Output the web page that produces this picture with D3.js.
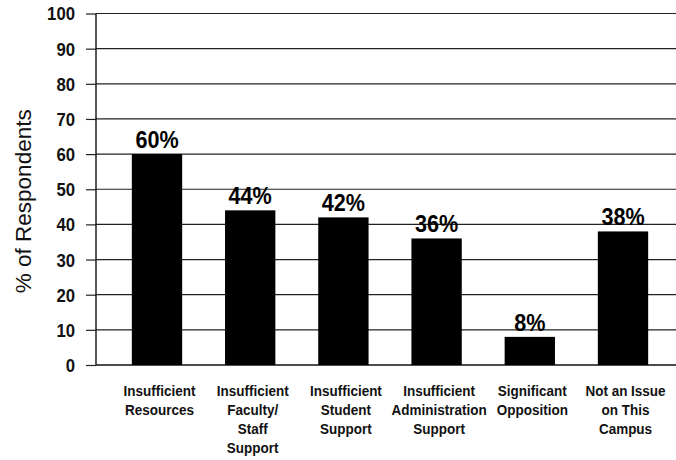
<!DOCTYPE html>
<html>
<head>
<meta charset="utf-8">
<script src="https://cdn.jsdelivr.net/npm/d3@7"></script>
<style>
  html, body { margin: 0; padding: 0; background: #fff; }
  svg { display: block; }
  text { font-family: "Liberation Sans", Arial, sans-serif; }
</style>
</head>
<body>
<svg id="chart" width="676" height="460"></svg>
<script>
const categories = [
  ["Insufficient", "Resources"],
  ["Insufficient", "Faculty/", "Staff", "Support"],
  ["Insufficient", "Student", "Support"],
  ["Insufficient", "Administration", "Support"],
  ["Significant", "Opposition"],
  ["Not an Issue", "on This", "Campus"]
];
const values = [60, 44, 42, 36, 8, 38];
const valueLabels = ["60%", "44%", "42%", "36%", "8%", "38%"];
const yTicks = [0, 10, 20, 30, 40, 50, 60, 70, 80, 90, 100];
const yTitle = "% of Respondents";

(function () {
const svg = d3.select("#chart");
const mLeft = 96, mRight = 676, mTop = 13.5, mBottom = 365;
const ids = d3.range(categories.length);

const y = d3.scaleLinear().domain([0, 100]).range([mBottom, mTop]);
const x = d3.scaleBand().domain(ids).range([110.4, 669.6]).paddingInner(0.46).paddingOuter(0.23);

// gridlines
svg.append("g").selectAll("line").data(yTicks.filter(d => d > 0)).join("line")
  .attr("x1", mLeft).attr("x2", mRight)
  .attr("y1", d => y(d)).attr("y2", d => y(d))
  .attr("stroke", "#222").attr("stroke-width", 1.2);

// y axis
const yAxis = d3.axisLeft(y).tickValues(yTicks).tickSize(10).tickPadding(0).tickFormat(d3.format("d"));
const ga = svg.append("g").attr("transform", `translate(${mLeft},0)`).call(yAxis);
ga.select(".domain").remove();
ga.selectAll(".tick line").attr("stroke", "#222").attr("stroke-width", 1.2);
ga.selectAll(".tick text")
  .attr("x", null)
  .attr("transform", "translate(-21,0) scale(0.93,1)")
  .attr("font-size", 18).attr("font-weight", "bold").attr("fill", "#111")
  .attr("font-family", "Liberation Sans, Arial, sans-serif")
  .attr("dy", "0.36em");

svg.append("line").attr("x1", mLeft).attr("x2", mLeft).attr("y1", mTop).attr("y2", mBottom)
  .attr("stroke", "#111").attr("stroke-width", 1.4);
svg.append("line").attr("x1", mLeft).attr("x2", mRight).attr("y1", mBottom).attr("y2", mBottom)
  .attr("stroke", "#111").attr("stroke-width", 1.4);

// bars
svg.append("g").selectAll("rect").data(values).join("rect")
  .attr("x", (d, i) => x(i)).attr("width", x.bandwidth())
  .attr("y", d => y(d)).attr("height", d => y(0) - y(d))
  .attr("fill", "#000");

// value labels
svg.append("g").selectAll("text").data(values).join("text")
  .attr("transform", (d, i) => `translate(${x(i) + x.bandwidth() / 2},${y(d) - 6}) scale(0.9,1)`)
  .attr("text-anchor", "middle")
  .attr("font-size", 24).attr("font-weight", "bold").attr("fill", "#000")
  .text((d, i) => valueLabels[i]);

// category labels
const cl = svg.append("g").selectAll("text").data(categories).join("text")
  .attr("text-anchor", "middle")
  .attr("font-size", 15).attr("font-weight", "bold").attr("fill", "#111")
  .attr("transform", (d, i) => `translate(${x(i) + x.bandwidth() / 2 + 2.5},396) scale(0.9,1)`);
cl.selectAll("tspan").data(d => d).join("tspan")
  .attr("x", 0).attr("y", (d, j) => j * 19)
  .text(d => d);

// y title
svg.append("text")
  .attr("transform", `translate(31,${(mTop + mBottom) / 2 + 12}) rotate(-90)`)
  .attr("text-anchor", "middle")
  .attr("font-size", 22.5).attr("fill", "#111")
  .text(yTitle);
})();
</script>
</body>
</html>
